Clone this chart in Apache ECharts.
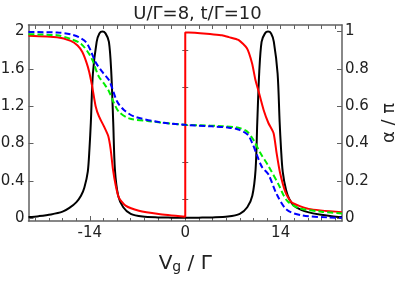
<!DOCTYPE html>
<html><head><meta charset="utf-8">
<script src="https://cdn.jsdelivr.net/npm/echarts@6/dist/echarts.min.js"></script>
<style>html,body{margin:0;padding:0;background:#fff}#c{width:395px;height:284px}</style>
</head><body><div id="c"></div>
<script>
// Black: G (left axis)
const blackV = [-23,-21.5,-19.7,-18,-17,-16,-15.3,-14.8,-14.3,-14.05,-13.85,-13.55,-13.0,-12.6,-12.15,-11.7,-11.2,-10.86,-10.57,-10.32,-9.84,-9.1,-8.0,-6.25,-4,-2,0,2,4,6.25,8.0,9.1,9.84,10.32,10.57,10.86,11.2,11.7,12.15,12.6,13.0,13.55,13.85,14.05,14.3,14.8,15.3,16,17,18,19.7,21.5,23];
const blackG = [0.012,0.022,0.04,0.07,0.11,0.17,0.24,0.33,0.5,0.75,1.03,1.55,1.89,1.98,2.0,1.98,1.89,1.57,1.03,0.52,0.24,0.117,0.046,0.017,0.008,0.006,0.005,0.006,0.008,0.017,0.046,0.117,0.24,0.52,1.03,1.57,1.89,1.98,2.0,1.98,1.89,1.55,1.03,0.75,0.5,0.3,0.2,0.13,0.09,0.065,0.04,0.022,0.012];
// Red: alpha/pi (right axis)
const redV = [-23,-18.8,-16.8,-15.8,-15.1,-14.5,-14.1,-13.65,-13.15,-12.66,-11.93,-11.3,-10.95,-10.6,-10.2,-9.74,-8.76,-6.8,-3.9,0,0,0.5,3.9,5.4,6.4,7.8,9.05,9.8,10.3,10.76,11.5,12.2,12.96,13.4,13.9,14.7,15.6,18.1,23];
const redA = [0.978,0.97,0.95,0.925,0.89,0.835,0.785,0.705,0.6,0.545,0.492,0.44,0.37,0.26,0.175,0.11,0.067,0.04,0.023,0.008,0.995,0.995,0.985,0.98,0.97,0.955,0.91,0.83,0.74,0.68,0.58,0.51,0.455,0.35,0.245,0.14,0.085,0.05,0.032];
// Green dashed: alpha/pi (right axis)
const greenV = [-23,-18.8,-16.8,-15.3,-14.1,-13.6,-12.7,-11.9,-11.2,-10.5,-9.74,-8.27,-5.3,-2,0,2,5.4,7.8,9.05,10.0,11.0,12.2,13.7,14.9,16.6,20,23];
const greenA = [0.985,0.98,0.96,0.935,0.88,0.845,0.76,0.72,0.68,0.62,0.57,0.535,0.52,0.507,0.5,0.498,0.493,0.485,0.465,0.42,0.35,0.28,0.18,0.095,0.055,0.035,0.025];
// Blue dashed: alpha/pi (right axis)
const blueV = [-23,-18.8,-16.8,-15.6,-14.6,-13.9,-13.15,-12.2,-11.2,-10.7,-10.0,-9.0,-7.5,-3.9,0,3.9,6.4,7.8,9.1,9.8,10.5,11.25,12.2,13.4,14.9,17.1,21,23];
const blueA = [0.997,0.995,0.985,0.97,0.945,0.9,0.835,0.785,0.74,0.695,0.625,0.58,0.545,0.515,0.5,0.492,0.485,0.475,0.45,0.405,0.34,0.275,0.235,0.13,0.045,0.015,0.004,0.0025];

const xLabels = [-14,0,14];
const xMinorTicks = [-22,-20,-18,-16,-12,-10,-8,-6,-4,-2,2,4,6,8,10,12,16,18,20,22];
const xAllTicks = [-22,-20,-18,-16,-14,-12,-10,-8,-6,-4,-2,0,2,4,6,8,10,12,14,16,18,20,22];
const yLeftLabels = [0,0.4,0.8,1.2,1.6,2];
const yLeftMinor = [0.2,0.6,1.0,1.4,1.8];
const yRightLabels = [0,0.2,0.4,0.6,0.8,1];
const yRightMinor = [0.1,0.3,0.5,0.7,0.9];

const zip = (a,b) => a.map((v,i)=>[v,b[i]]);
const FONT = 'DejaVu Sans';
const axisLineC = '#606060';

const chart = echarts.init(document.getElementById('c'));
chart.setOption({
  animation:false,
  title:{text:'U/Γ=8, t/Γ=10', left:'center', top:0,
    textStyle:{fontFamily:FONT,fontSize:18,fontWeight:'normal',color:'#222'}},
  grid:{left:28.5,right:53,top:25,bottom:63,containLabel:false,outerBoundsMode:'none'},
  xAxis:[
    {type:'value',position:'bottom',min:-23,max:23,
     name:'{a|V}{b|g}{a| / Γ}',nameLocation:'middle',nameGap:33,
     nameTextStyle:{rich:{a:{fontFamily:FONT,fontSize:20,color:'#222',lineHeight:20,verticalAlign:'top'},
                          b:{fontFamily:FONT,fontSize:14,color:'#222',lineHeight:14,padding:[10,0,0,0],verticalAlign:'bottom'}}},
     axisLine:{show:true,onZero:false,lineStyle:{color:axisLineC,width:1.5}},
     axisTick:{show:true,inside:true,length:3,customValues:xMinorTicks,lineStyle:{color:axisLineC}},
     axisLabel:{show:true,customValues:xLabels,fontFamily:FONT,fontSize:15,color:'#222',margin:5},
     splitLine:{show:false}},
    {type:'value',position:'bottom',min:-23,max:23,
     axisLine:{show:false,onZero:false},
     axisTick:{show:true,inside:true,length:5,customValues:xLabels,lineStyle:{color:axisLineC}},
     axisLabel:{show:false},splitLine:{show:false}},
    {type:'value',position:'top',min:-23,max:23,
     axisLine:{show:true,onZero:false,lineStyle:{color:axisLineC,width:1.5}},
     axisTick:{show:true,inside:true,length:4,customValues:xAllTicks,lineStyle:{color:axisLineC}},
     axisLabel:{show:false},splitLine:{show:false}}
  ],
  yAxis:[
    {type:'value',position:'left',min:-0.03,max:2.07,
     axisLine:{show:true,onZero:false,lineStyle:{color:axisLineC,width:1.5}},
     axisTick:{show:true,inside:true,length:5,customValues:yLeftLabels,lineStyle:{color:axisLineC}},
     axisLabel:{show:true,customValues:yLeftLabels,fontFamily:FONT,fontSize:15,color:'#222',margin:4},
     splitLine:{show:false}},
    {type:'value',position:'right',min:-0.015,max:1.035,
     name:'α / π',nameLocation:'middle',nameGap:38,nameRotate:90,
     nameTextStyle:{fontFamily:FONT,fontSize:18,color:'#222'},
     axisLine:{show:true,onZero:false,lineStyle:{color:axisLineC,width:1.5}},
     axisTick:{show:true,inside:true,length:5,customValues:yRightLabels,lineStyle:{color:axisLineC}},
     axisLabel:{show:true,customValues:yRightLabels,fontFamily:FONT,fontSize:15,color:'#222',margin:3},
     splitLine:{show:false}},
    {type:'value',position:'left',min:-0.03,max:2.07,
     axisLine:{show:false},
     axisTick:{show:true,inside:true,length:3,customValues:yLeftMinor,lineStyle:{color:axisLineC}},
     axisLabel:{show:false},splitLine:{show:false}},
    {type:'value',position:'right',min:-0.015,max:1.035,
     axisLine:{show:false},
     axisTick:{show:true,inside:true,length:3,customValues:yRightMinor,lineStyle:{color:axisLineC}},
     axisLabel:{show:false},splitLine:{show:false}}
  ],
  series:[
    {type:'line',xAxisIndex:0,yAxisIndex:0,data:zip(blackV,blackG),showSymbol:false,smooth:0.3,
     lineStyle:{color:'#000',width:2}},
    {type:'line',xAxisIndex:0,yAxisIndex:1,data:zip(redV,redA),showSymbol:false,smooth:0.2,
     lineStyle:{color:'#ff0000',width:2}},
    {type:'line',xAxisIndex:0,yAxisIndex:1,data:zip(greenV,greenA),showSymbol:false,smooth:0.3,
     lineStyle:{color:'#00ee00',width:2,type:[6,3]}},
    {type:'line',xAxisIndex:0,yAxisIndex:1,data:zip(blueV,blueA),showSymbol:false,smooth:0.3,
     lineStyle:{color:'#0000ff',width:2,type:[6,3]}}
  ]
});
</script></body></html>
